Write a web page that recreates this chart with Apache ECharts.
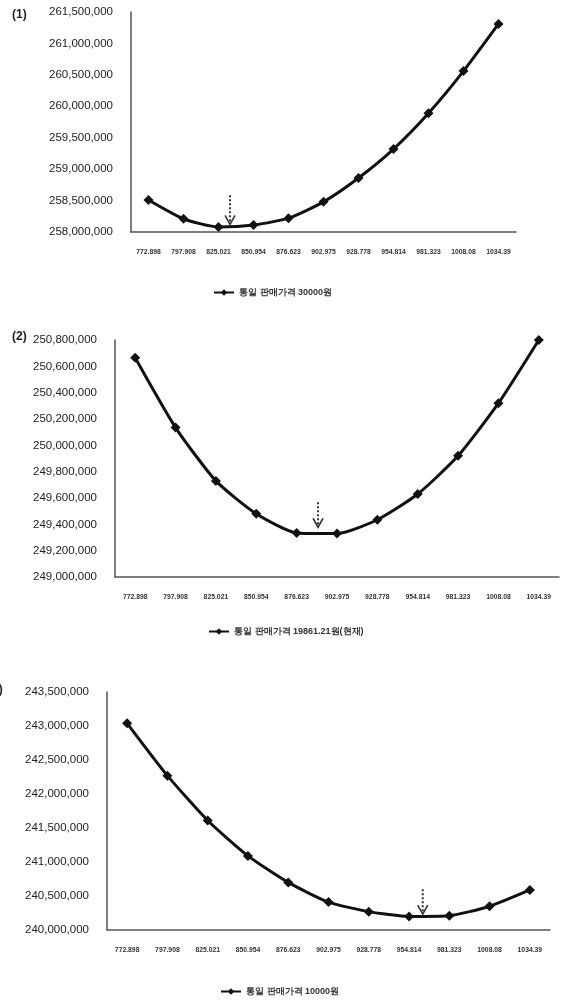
<!DOCTYPE html>
<html>
<head>
<meta charset="utf-8">
<script src="https://cdn.jsdelivr.net/npm/echarts@6/dist/echarts.min.js"></script>
<style>
html,body{margin:0;padding:0;background:#fff;}
#c{width:564px;height:1001px;}
</style>
</head>
<body>
<div id="c"></div>
<script>
// Categories (x-axis tick labels)
var categories = ['772.898','797.908','825.021','850.954','876.623','902.975','928.778','954.814','981.323','1008.08','1034.39'];

// Series values
var price30000 = [258510000,258210000,258080000,258110000,258220000,258480000,258860000,259320000,259890000,260560000,261310000];
var price19861 = [250665000,250135000,249730000,249480000,249335000,249330000,249435000,249630000,249920000,250320000,250800000];
var price10000 = [243040000,242270000,241610000,241090000,240700000,240410000,240270000,240200000,240210000,240350000,240590000];

// Series names (legend)
var names = ['통일 판매가격 30000원','통일 판매가격 19861.21원(현재)','통일 판매가격 10000원'];

// Y axis ranges
var yMins = [258000000,249000000,240000000];
var yMaxs = [261500000,250800000,243500000];
var yIntervals = [500000,200000,500000];

// Panel labels
var panelLabels = ['(1)','(2)','(3)'];

// Arrow annotation: position between categories (fractional index)
var arrowPos = [2.33, 4.53, 7.34];

var chart = echarts.init(document.getElementById('c'));

var grids = [
  {left:131, top:12, width:385, height:220},
  {left:115, top:340, width:444, height:237},
  {left:107, top:692, width:443, height:238}
];
var legendPos = [{left:208, top:283},{left:203, top:622},{left:215, top:982}];
var allData = [price30000, price19861, price10000];

var xAxes = [], yAxes = [], series = [], legends = [];
for (var i=0;i<3;i++){
  xAxes.push({
    type:'category', gridIndex:i, data:categories, boundaryGap:true,
    axisLine:{lineStyle:{color:'#555', width:1.5}},
    axisTick:{show:false},
    axisLabel:{interval:0, margin:17, fontSize:6.8, fontWeight:'bold', color:'#333', fontFamily:'Liberation Sans'}
  });
  yAxes.push({
    type:'value', gridIndex:i, min:yMins[i], max:yMaxs[i], interval:yIntervals[i],
    axisLine:{show:true, lineStyle:{color:'#555', width:1.5}},
    axisTick:{show:false},
    splitLine:{show:false},
    axisLabel:{margin:18, fontSize:11.5, color:'#222', fontFamily:'Liberation Sans',
      formatter:function(v){return v.toLocaleString('en-US');}}
  });
  series.push({
    name:names[i], type:'line', xAxisIndex:i, yAxisIndex:i, data:allData[i],
    smooth:0.2, symbol:'diamond', symbolSize:10, clip:false,
    lineStyle:{color:'#111', width:3},
    itemStyle:{color:'#111'}
  });
  legends.push({
    data:[names[i]], left:legendPos[i].left, top:legendPos[i].top,
    itemWidth:20, itemHeight:8, itemGap:4,
    textStyle:{fontSize:9, fontWeight:'bold', color:'#333', fontFamily:'Liberation Sans'}
  });
}

chart.setOption({
  animation:false,
  backgroundColor:'#fff',
  grid:grids, xAxis:xAxes, yAxis:yAxes, series:series, legend:legends
});

// Annotations: panel labels and dotted arrows, positioned via the chart's scales
var graphics = [];
var panelPos = [[12,9],[12,331],[-12,684]];
for (var i=0;i<3;i++){
  graphics.push({type:'text', left:panelPos[i][0], top:panelPos[i][1],
    style:{text:panelLabels[i], font:'bold 12px Liberation Sans', fill:'#222'}});
  var f = arrowPos[i], k = Math.floor(f), t = f-k;
  var p0 = chart.convertToPixel({xAxisIndex:i, yAxisIndex:i}, [k, allData[i][k]]);
  var p1 = chart.convertToPixel({xAxisIndex:i, yAxisIndex:i}, [k+1, allData[i][k+1]]);
  var x = p0[0] + (p1[0]-p0[0])*t;
  var yLine = p0[1] + (p1[1]-p0[1])*t;
  var tip = yLine - (i===1 ? 6 : 2);
  var len = (i===0 ? 29 : 25);
  graphics.push({type:'line', shape:{x1:x, y1:tip-len, x2:x, y2:tip-2},
    style:{stroke:'#333', lineWidth:2, lineDash:[2,2]}});
  graphics.push({type:'polyline', shape:{points:[[x-5,tip-9],[x,tip],[x+5,tip-9]]},
    style:{stroke:'#333', lineWidth:1.6, fill:null}});
}
chart.setOption({graphic:graphics});
</script>
</body>
</html>
